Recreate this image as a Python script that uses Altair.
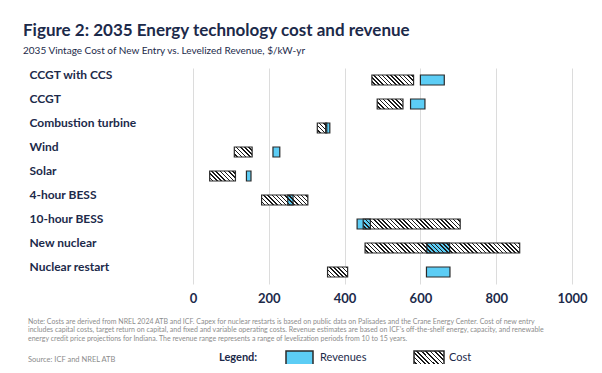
import altair as alt
import pandas as pd

# ---------------- data ----------------
categories = ["CCGT with CCS", "CCGT", "Combustion turbine", "Wind", "Solar",
              "4-hour BESS", "10-hour BESS", "New nuclear", "Nuclear restart"]
cost_low = [472, 486, 328, 109, 44, 181, 449, 454, 355]
cost_high = [582, 554, 353, 156, 112, 303, 705, 862, 408]
rev_low = [600, 574, 350, 211, 141, 250, 433, 617, 616]
rev_high = [663, 612, 361, 229, 153, 264, 468, 677, 678]
x_ticks = [0, 200, 400, 600, 800, 1000]

title_text = "Figure 2: 2035 Energy technology cost and revenue"
subtitle_text = "2035 Vintage Cost of New Entry vs. Levelized Revenue, $/kW-yr"
note_lines = [
    "Note: Costs are derived from NREL 2024 ATB and ICF. Capex for nuclear restarts is based on public data on Palisades and the Crane Energy Center. Cost of new entry",
    "includes capital costs, target return on capital, and fixed and variable operating costs. Revenue estimates are based on ICF\u2019s off-the-shelf energy, capacity, and renewable",
    "energy credit price projections for Indiana. The revenue range represents a range of levelization periods from 10 to 15 years.",
]
source_text = "Source: ICF and NREL ATB"
legend_labels = ["Legend:", "Revenues", "Cost"]

# ---------------- style ----------------
NAVY = "#1c2a4a"
BLUE = "#5ccdf5"
EDGE = "#2a2a2a"
GREY = "#8c8c8c"
FONT = "Lato"
W, H = 379, 216
X_MAX = 1000
STEP = H / len(categories)
BAR_H = 10
PAD_IN = 1 - BAR_H / STEP

df = pd.DataFrame({"cat": categories, "clo": cost_low, "chi": cost_high,
                   "rlo": rev_low, "rhi": rev_high})


def hatch(w_px, h_px, period=4.2, ink=0.38):
    """Diagonal '\\' hatch as a linear gradient in the mark's bounding box."""
    L = w_px + h_px
    n = L / period
    d = w_px ** 2 + h_px ** 2
    clear = "rgba(255,255,255,0)"
    black = "#1a1a1a"
    stops = []
    k = 0
    while k < n:
        a = min(k / n, 1.0)
        b = min((k + 1 - ink) / n, 1.0)
        c = min((k + 1) / n, 1.0)
        stops += [(a, clear), (b, clear), (b, black), (c, black)]
        k += 1
    return alt.LinearGradient(
        gradient="linear",
        stops=[alt.GradientStop(offset=round(o, 5), color=col) for o, col in stops],
        x1=0, y1=1, x2=L * w_px / d, y2=1 - L * h_px / d,
    )


xscale = alt.Scale(domain=[0, X_MAX], nice=False, zero=False)
yscale = alt.Scale(domain=categories, paddingInner=PAD_IN, paddingOuter=PAD_IN / 2)

x_axis = alt.Axis(values=x_ticks, grid=True, gridColor="#dcdcdc", gridWidth=1,
                  domain=False, ticks=False, labelFont=FONT, labelFontSize=13,
                  labelFontWeight="bold", labelColor=NAVY, labelPadding=8,
                  labelFlush=False, labelOverlap=False,
                  title=None, format="d")
y_axis = alt.Axis(domain=False, ticks=False, grid=False, labelFont=FONT,
                  labelFontSize=12, labelFontWeight="bold", labelColor=NAVY,
                  labelAlign="left", labelPadding=164, labelOffset=-5,
                  title=None, labelLimit=200)

base = alt.Chart(df)

# white background of cost bars (hides gridlines)
cost_bg = base.mark_bar(fill="white", stroke=None).encode(
    x=alt.X("clo:Q", scale=xscale, axis=x_axis),
    x2="chi:Q",
    y=alt.Y("cat:N", scale=yscale, axis=y_axis, sort=categories),
)

rev = base.mark_bar(fill=BLUE, stroke=EDGE, strokeWidth=1.2).encode(
    x=alt.X("rlo:Q", scale=xscale, axis=x_axis),
    x2="rhi:Q",
    y=alt.Y("cat:N", scale=yscale, axis=y_axis, sort=categories),
)

cost_layers = []
for c, lo, hi in zip(categories, cost_low, cost_high):
    w_px = (hi - lo) * W / X_MAX
    sub = df[df["cat"] == c]
    cost_layers.append(
        alt.Chart(sub).mark_bar(fill=hatch(w_px, BAR_H), stroke=EDGE, strokeWidth=1.2).encode(
            x=alt.X("clo:Q", scale=xscale, axis=x_axis),
            x2="chi:Q",
            y=alt.Y("cat:N", scale=yscale, axis=y_axis, sort=categories),
        )
    )

one = pd.DataFrame({"k": [0]})

notes = alt.Chart(one).mark_text(
    align="left", baseline="middle", font=FONT, fontSize=7, color=GREY,
    lineBreak="\n", lineHeight=8.3,
).encode(x=alt.value(-165), y=alt.value(254), text=alt.value("\n".join(note_lines)))

source = alt.Chart(one).mark_text(
    align="left", baseline="middle", font=FONT, fontSize=7.5, color=GREY,
).encode(x=alt.value(-165), y=alt.value(292), text=alt.value(source_text))

leg_title = alt.Chart(one).mark_text(
    align="left", baseline="middle", font=FONT, fontSize=11, fontWeight="bold", color=NAVY,
).encode(x=alt.value(26), y=alt.value(290), text=alt.value(legend_labels[0]))

leg_rev_box = alt.Chart(one).mark_rect(fill=BLUE, stroke=EDGE, strokeWidth=1.5).encode(
    x=alt.value(93), x2=alt.value(120), y=alt.value(283), y2=alt.value(297))
leg_rev_txt = alt.Chart(one).mark_text(
    align="left", baseline="middle", font=FONT, fontSize=11, color=NAVY,
).encode(x=alt.value(127), y=alt.value(290), text=alt.value(legend_labels[1]))

leg_cost_box = alt.Chart(one).mark_rect(fill=hatch(30, 14, period=4.4), stroke=EDGE, strokeWidth=1.5).encode(
    x=alt.value(221), x2=alt.value(251), y=alt.value(283), y2=alt.value(297))
leg_cost_txt = alt.Chart(one).mark_text(
    align="left", baseline="middle", font=FONT, fontSize=11, color=NAVY,
).encode(x=alt.value(256), y=alt.value(290), text=alt.value(legend_labels[2]))

chart = alt.layer(
    cost_bg, rev, *cost_layers, notes, source, leg_title,
    leg_rev_box, leg_rev_txt, leg_cost_box, leg_cost_txt,
).properties(
    width=W, height=H,
    autosize="none",
    padding={"left": 185, "top": 60, "right": 22, "bottom": 80},
    background="white",
    title=alt.TitleParams(
        text=title_text, subtitle=subtitle_text, anchor="start", frame="group",
        dx=-170, offset=11, font=FONT, fontSize=17, fontWeight="bold", color=NAVY,
        subtitleFont=FONT, subtitleFontSize=10, subtitleColor=NAVY, subtitlePadding=6,
    ),
).configure_view(stroke=None)

chart.save("out.html", embed_options={"renderer": "svg", "actions": False})
